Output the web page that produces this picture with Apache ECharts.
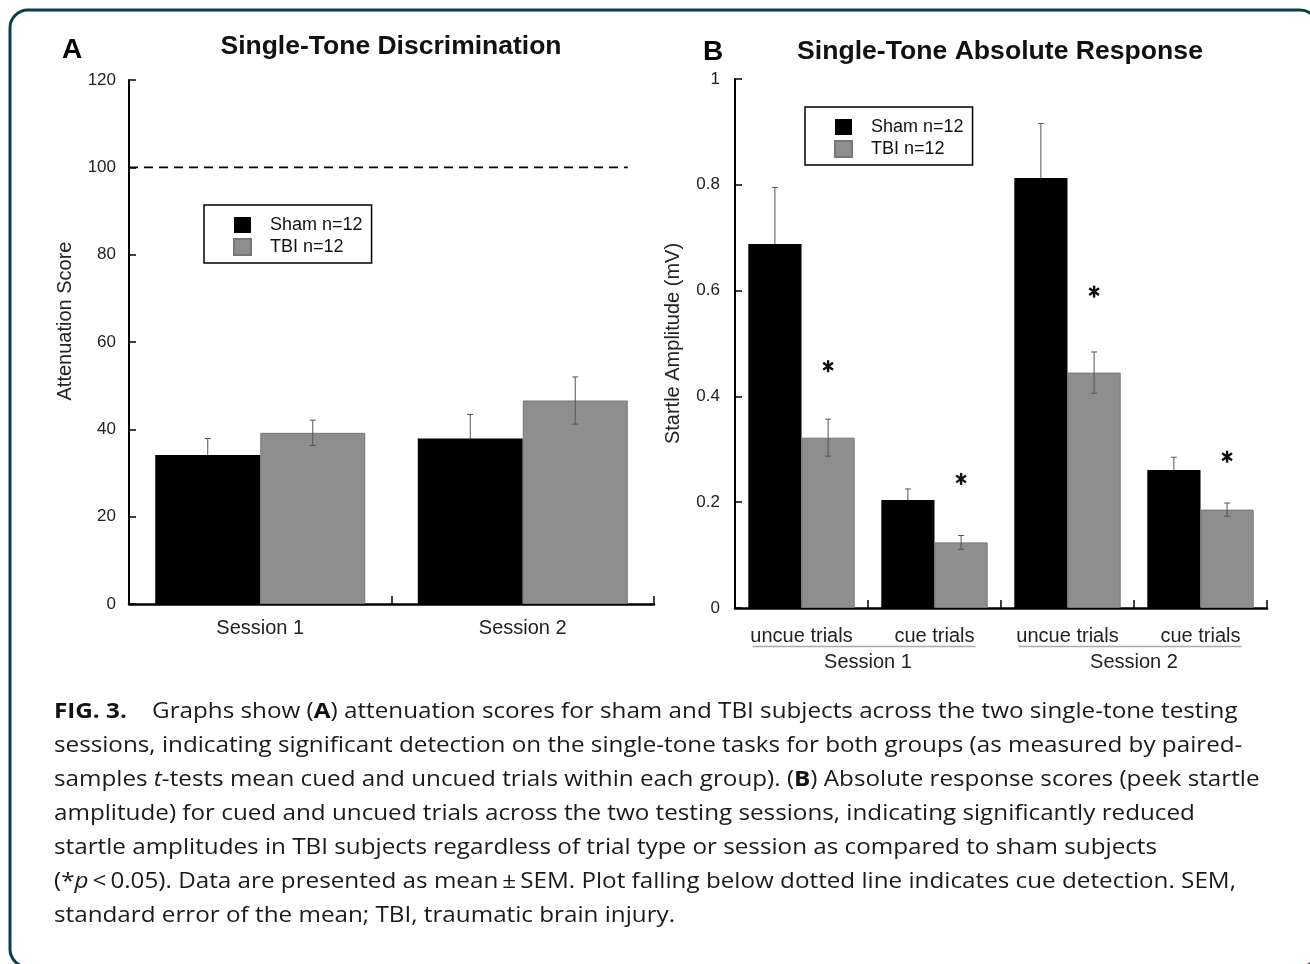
<!DOCTYPE html>
<html>
<head>
<meta charset="utf-8">
<script src="https://cdn.jsdelivr.net/npm/echarts@6/dist/echarts.min.js"></script>
<style>
  html, body { margin: 0; padding: 0; background: #fff; }
  #main { width: 1310px; height: 964px; }
</style>
</head>
<body>
<div id="main"></div>
<script>
// ---- panel A: attenuation score ----
const sessions = ['Session 1', 'Session 2'];
const attnSham = [34.1, 37.9];
const attnShamSem = [3.8, 5.5];
const attnTbi = [39.2, 46.6];
const attnTbiSem = [2.9, 5.4];
const attnTicks = [0, 20, 40, 60, 80, 100, 120];
const detectLevel = 100;

// ---- panel B: startle amplitude ----
const trials = ['uncue trials', 'cue trials', 'uncue trials', 'cue trials'];
const startleSham = [0.688, 0.204, 0.813, 0.261];
const startleShamSem = [0.107, 0.021, 0.103, 0.024];
const startleTbi = [0.322, 0.124, 0.445, 0.186];
const startleTbiSem = [0.035, 0.013, 0.039, 0.0125];
const starLevels = [0.457, 0.244, 0.598, 0.286];
const startleTicks = [0, 0.2, 0.4, 0.6, 0.8, 1];

const FONT = '"Liberation Sans", Arial, sans-serif';
const CAP_FONT = '"Open Sans", sans-serif';
const SHAM = 'Sham n=12', TBI = 'TBI n=12';

const caption =
  '{b|FIG. 3.}    Graphs show ({b|A}) attenuation scores for sham and TBI subjects across the two single-tone testing\n' +
  'sessions, indicating significant detection on the single-tone tasks for both groups (as measured by paired-\n' +
  'samples {i|t}-tests mean cued and uncued trials within each group). ({b|B}) Absolute response scores (peek startle\n' +
  'amplitude) for cued and uncued trials across the two testing sessions, indicating significantly reduced\n' +
  'startle amplitudes in TBI subjects regardless of trial type or session as compared to sham subjects\n' +
  '(*{i|p}\u2009<\u20090.05). Data are presented as mean\u2009\u00b1\u2009SEM. Plot falling below dotted line indicates cue detection. SEM,\n' +
  'standard error of the mean; TBI, traumatic brain injury.';

// error bar drawn at the sham (-0.2) or TBI (+0.2) bar centre
function errorBars(offset, color) {
  return function (params, api) {
    const i = api.value(0), m = api.value(1), e = api.value(2);
    const band = api.size([1, 0])[0];
    const x = api.coord([i, m])[0] + offset * band;
    const top = api.coord([i, m + e])[1];
    const bot = api.coord([i, m - e])[1];
    const cap = 3;
    const style = { stroke: color, lineWidth: 1 };
    return { type: 'group', children: [
      { type: 'line', shape: { x1: x, y1: top, x2: x, y2: bot }, style: style },
      { type: 'line', shape: { x1: x - cap, y1: top, x2: x + cap, y2: top }, style: style },
      { type: 'line', shape: { x1: x - cap, y1: bot, x2: x + cap, y2: bot }, style: style }
    ]};
  };
}

// asterisk over the TBI bar
function star(params, api) {
  const band = api.size([1, 0])[0];
  const p = api.coord([api.value(0), api.value(1)]);
  const x = p[0] + 0.2 * band, y = p[1], r = 6;
  return { type: 'group', children: [90, 35, 145].map(function (a) {
    const t = a * Math.PI / 180;
    return { type: 'line',
      shape: { x1: x - r * Math.cos(t), y1: y - r * Math.sin(t), x2: x + r * Math.cos(t), y2: y + r * Math.sin(t) },
      style: { stroke: '#111', lineWidth: 2.4 } };
  })};
}

function legendAt(left, top) {
  return {
    left: left, top: top, orient: 'vertical', data: [SHAM, TBI],
    icon: 'rect', itemWidth: 17, itemHeight: 16, itemGap: 4,
    padding: [11, 9, 7, 29], borderColor: '#000', borderWidth: 1.5,
    selectedMode: false,
    textStyle: { fontFamily: FONT, fontSize: 18, color: '#111', lineHeight: 16, padding: [0, 0, 0, 14] }
  };
}

const axisLine = { show: true, lineStyle: { color: '#000', width: 2 } };
const tickStyle = { color: '#000', width: 1.5 };

const chart = echarts.init(document.getElementById('main'));

const option = {
  animation: false,
  textStyle: { fontFamily: FONT },
  legend: [legendAt(204, 205), legendAt(805, 107)],
  grid: [
    { left: 129, top: 80, width: 525, height: 524, outerBoundsMode: 'none' },
    { left: 735, top: 79, width: 532, height: 529, outerBoundsMode: 'none' }
  ],
  xAxis: [
    { type: 'category', gridIndex: 0, data: sessions,
      axisLine: { show: true, lineStyle: { color: '#000', width: 2.5 } },
      axisTick: { show: true, inside: true, length: 8, lineStyle: tickStyle },
      axisLabel: { fontSize: 20, color: '#222', margin: 14 } },
    { type: 'category', gridIndex: 1, data: trials,
      axisLine: { show: true, lineStyle: { color: '#000', width: 2.5 } },
      axisTick: { show: true, inside: true, length: 8, lineStyle: tickStyle },
      axisLabel: { fontSize: 20, color: '#222', margin: 18 } },
    { type: 'category', gridIndex: 1, position: 'bottom', data: sessions,
      axisLine: { show: false }, axisTick: { show: false },
      axisLabel: { fontSize: 20, color: '#222', margin: 44 } }
  ],
  yAxis: [
    { type: 'value', gridIndex: 0,
      min: attnTicks[0], max: attnTicks[attnTicks.length - 1], interval: attnTicks[1] - attnTicks[0],
      name: 'Attenuation Score', nameLocation: 'middle', nameGap: 54,
      nameTextStyle: { fontSize: 20, color: '#222', padding: [0, 0, 0, 42] },
      axisLine: axisLine,
      axisTick: { show: true, inside: true, length: 7, lineStyle: tickStyle },
      axisLabel: { fontSize: 17, color: '#222', margin: 13 },
      splitLine: { show: false } },
    { type: 'value', gridIndex: 1,
      min: startleTicks[0], max: startleTicks[startleTicks.length - 1], interval: startleTicks[1] - startleTicks[0],
      name: 'Startle Amplitude (mV)', nameLocation: 'middle', nameGap: 52,
      nameTextStyle: { fontSize: 20, color: '#222' },
      axisLine: axisLine,
      axisTick: { show: true, inside: true, length: 7, lineStyle: tickStyle },
      axisLabel: { fontSize: 17, color: '#222', margin: 15 },
      splitLine: { show: false } }
  ],
  series: [
    { name: SHAM, type: 'bar', xAxisIndex: 0, yAxisIndex: 0, data: attnSham,
      barGap: '0%', barCategoryGap: '20%', itemStyle: { color: '#000' } },
    { name: TBI, type: 'bar', xAxisIndex: 0, yAxisIndex: 0, data: attnTbi,
      barGap: '0%', barCategoryGap: '20%', itemStyle: { color: '#8e8e8e', borderColor: '#777', borderWidth: 1 } },
    { name: 'semShamA', type: 'custom', xAxisIndex: 0, yAxisIndex: 0, z: 1,
      renderItem: errorBars(-0.2, '#555'), encode: { x: 0, y: 1 },
      data: attnSham.map(function (v, i) { return [i, v, attnShamSem[i]]; }) },
    { name: 'semTbiA', type: 'custom', xAxisIndex: 0, yAxisIndex: 0, z: 3,
      renderItem: errorBars(0.2, '#555'), encode: { x: 0, y: 1 },
      data: attnTbi.map(function (v, i) { return [i, v, attnTbiSem[i]]; }) },

    { name: SHAM, type: 'bar', xAxisIndex: 1, yAxisIndex: 1, data: startleSham,
      barGap: '0%', barCategoryGap: '20%', itemStyle: { color: '#000' } },
    { name: TBI, type: 'bar', xAxisIndex: 1, yAxisIndex: 1, data: startleTbi,
      barGap: '0%', barCategoryGap: '20%', itemStyle: { color: '#8e8e8e', borderColor: '#777', borderWidth: 1 } },
    { name: 'semShamB', type: 'custom', xAxisIndex: 1, yAxisIndex: 1, z: 1,
      renderItem: errorBars(-0.2, '#555'), encode: { x: 0, y: 1 },
      data: startleSham.map(function (v, i) { return [i, v, startleShamSem[i]]; }) },
    { name: 'semTbiB', type: 'custom', xAxisIndex: 1, yAxisIndex: 1, z: 3,
      renderItem: errorBars(0.2, '#555'), encode: { x: 0, y: 1 },
      data: startleTbi.map(function (v, i) { return [i, v, startleTbiSem[i]]; }) },
    { name: 'stars', type: 'custom', xAxisIndex: 1, yAxisIndex: 1, z: 3,
      renderItem: star, encode: { x: 0, y: 1 },
      data: starLevels.map(function (v, i) { return [i, v]; }) }
  ]
};
chart.setOption(option);

// decorations placed from the axes: dashed detection line, session underlines, titles, frame, caption
const c0 = chart.convertToPixel({ gridIndex: 0 }, [0, detectLevel]);
const c1 = chart.convertToPixel({ gridIndex: 0 }, [1, detectLevel]);
const bandA = c1[0] - c0[0];
const b0 = chart.convertToPixel({ gridIndex: 1 }, [0, 0]);
const bandB = chart.convertToPixel({ gridIndex: 1 }, [1, 0])[0] - b0[0];

const elements = [
  { type: 'rect', shape: { x: 10, y: 10, width: 1308, height: 957, r: 18 },
    style: { fill: 'none', stroke: '#0c3e4a', lineWidth: 3 }, silent: true },
  { type: 'line', shape: { x1: c0[0] - bandA / 2, y1: c0[1], x2: c1[0] + 0.4 * bandA, y2: c0[1] },
    style: { stroke: '#000', lineWidth: 1.8, lineDash: [9, 6] }, silent: true },
  { type: 'text', x: 72, y: 50, style: { text: 'A', font: 'bold 28px ' + FONT, fill: '#000', textAlign: 'center', textVerticalAlign: 'middle' } },
  { type: 'text', x: 713, y: 52, style: { text: 'B', font: 'bold 28px ' + FONT, fill: '#000', textAlign: 'center', textVerticalAlign: 'middle' } },
  { type: 'text', x: 391, y: 47, style: { text: 'Single-Tone Discrimination', font: 'bold 26.5px ' + FONT, fill: '#111', textAlign: 'center', textVerticalAlign: 'middle' } },
  { type: 'text', x: 1000, y: 52, style: { text: 'Single-Tone Absolute Response', font: 'bold 26.6px ' + FONT, fill: '#111', textAlign: 'center', textVerticalAlign: 'middle' } },
  { type: 'text', x: 54, y: 695, scaleX: 1.154, silent: true,
    style: {
      text: caption, font: '21px ' + CAP_FONT, fill: '#1a1a1a', lineHeight: 34,
      textAlign: 'left', textVerticalAlign: 'top',
      rich: {
        b: { fontFamily: CAP_FONT, fontSize: 21, fontWeight: 'bold', fill: '#111', lineHeight: 34 },
        i: { fontFamily: CAP_FONT, fontSize: 21, fontStyle: 'italic', fill: '#1a1a1a', lineHeight: 34 }
      }
    } }
];
[0, 1].forEach(function (s) {
  const xa = b0[0] + 2 * s * bandB, xb = b0[0] + (2 * s + 1) * bandB;
  elements.push({ type: 'line', shape: { x1: xa - 49, y1: b0[1] + 38.5, x2: xb + 41, y2: b0[1] + 38.5 },
    style: { stroke: '#aaa', lineWidth: 1.5 }, silent: true });
});
chart.setOption({ graphic: { elements: elements } });
</script>
</body>
</html>
